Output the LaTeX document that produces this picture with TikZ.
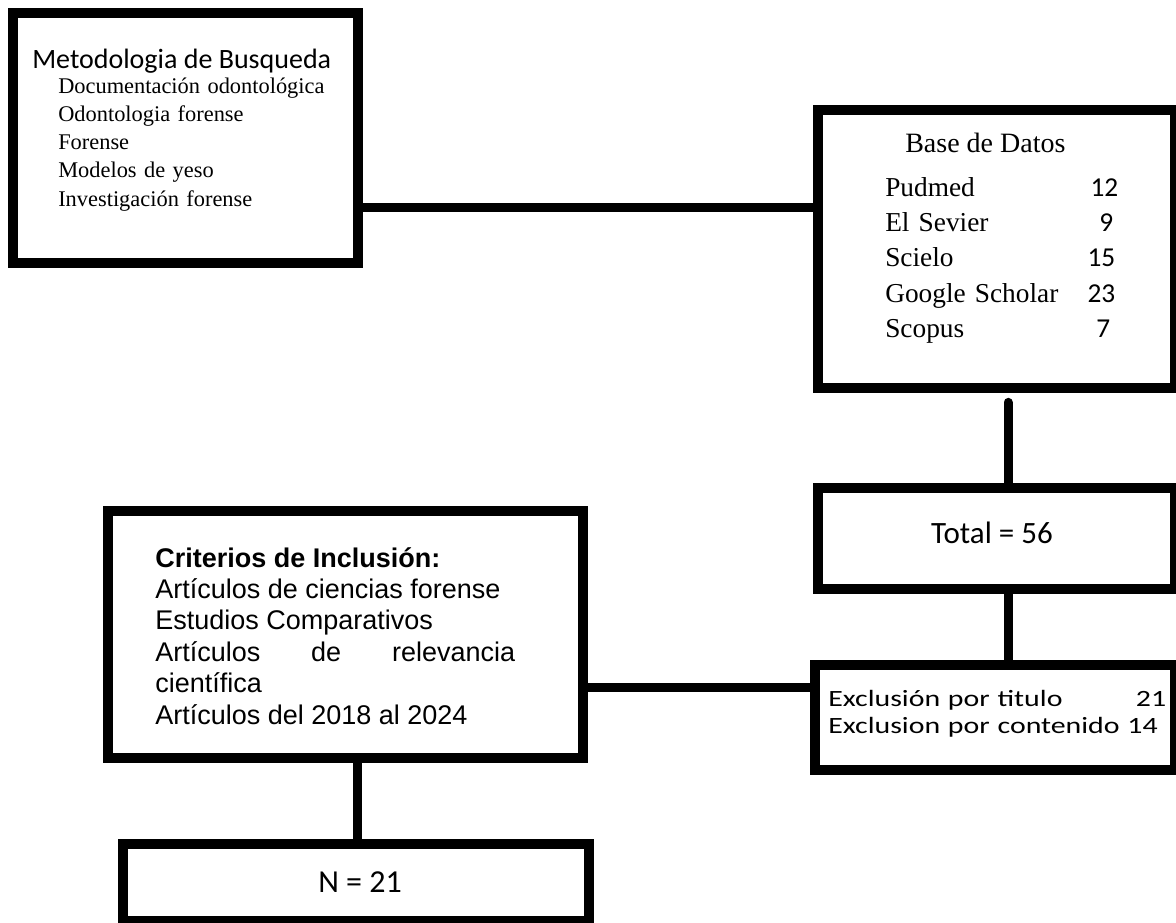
\documentclass[tikz,border=0pt]{standalone}
\usepackage{fontspec}
\setmainfont{Liberation Serif}
\newfontfamily\calibrifont{Carlito}
\newfontfamily\calibriancha[FakeStretch=1.28]{Carlito}
\newfontfamily\arialfont{Liberation Sans}

\begin{document}
\begin{tikzpicture}[x=0.75pt, y=-0.75pt,
    bloque/.style={draw, line width=7.5pt, inner sep=0pt},
    enlace/.style={line width=6.75pt},
    texto/.style={inner sep=0pt, anchor=base west, align=left}]
                    \useasboundingbox (0,0) rectangle (1176,922);
                    \clip (0,0) rectangle (1176,922);
                    \fill[white] (0,0) rectangle (1176,922);

                    % cajas
                    \node[bloque, minimum width=258.75pt, minimum height=187.5pt] (meto) at (185,137.5) {};
                    \node[bloque, minimum width=267.75pt, minimum height=208.5pt] (datos) at (996.5,249) {};
                    \node[bloque, minimum width=267.75pt, minimum height=75.75pt] (total) at (996.5,538.5) {};
                    \node[bloque, minimum width=270pt, minimum height=78.4pt] (excl) at (995,717.25) {};
                    \node[bloque, minimum width=355.9pt, minimum height=185.6pt] (crit) at (345.25,634.25) {};
                    \node[bloque, minimum width=349.5pt, minimum height=57.75pt] (nfinal) at (356,882.5) {};

                    % textos
                    \node[texto, font=\calibrifont\fontsize{21}{25}\selectfont] (metotit) at (32,68) {Metodologia de Busqueda};
                    \node[texto, text width=225pt, font=\fontsize{16.8}{21.2}\selectfont] (metolista) at (58,93) {
                        Documentación odontológica\\
                        Odontologia forense\\
                        Forense\\
                        Modelos de yeso\\
                        Investigación forense
                    };
                    \node[texto, font=\fontsize{21}{25}\selectfont] (datostit) at (905,152) {Base de Datos};
                    \node[texto, text width=174.75pt, font=\fontsize{20.5}{26.6}\selectfont] (datoslista) at (885,196) {
                        Pudmed\hfill{\calibrifont 12}\\
                        El Sevier\hfill{\calibrifont 9}\kern3.75pt\\
                        Scielo\hfill{\calibrifont 15}\kern2.25pt\\
                        Google Scholar\hfill{\calibrifont 23}\kern2.25pt\\
                        Scopus\hfill{\calibrifont 7}\kern6pt
                    };
                    \node[inner sep=0pt, anchor=base, font=\calibrifont\fontsize{23.25}{28}\selectfont] (totaltxt) at (992,543) {Total = 56};
                    \node[texto, text width=253.5pt, font=\calibriancha\fontsize{17.5}{20.25}\selectfont] (excllista) at (828,706) {
                        Exclusión por titulo\hfill 21\\
                        Exclusion por contenido 14
                    };
                    \node[texto, text width=270pt, align=justify, font=\arialfont\fontsize{20.25}{23.6}\selectfont] (critlista) at (155,567) {
                        \textbf{Criterios de Inclusión:}\\
                        Artículos de ciencias forense\\
                        Estudios Comparativos\\
                        Artículos de relevancia \mbox{científica}\\
                        Artículos del 2018 al 2024
                    };
                    \node[inner sep=0pt, anchor=base, font=\calibrifont\fontsize{24}{29}\selectfont] (ntxt) at (360,892) {N = 21};

                    % enlaces
                    \coordinate (ymeto) at (0,207);
                    \coordinate (xdatos) at (1008,0);
                    \coordinate (ycrit) at (0,687);
                    \coordinate (xcrit) at (357,0);
                    \draw[enlace] (meto.east |- ymeto) -- (datos.west |- ymeto);
                    \draw[enlace, line cap=round, shorten <=7pt] (datos.south -| xdatos) -- (total.north -| xdatos);
                    \draw[enlace] (total.south -| xdatos) -- (excl.north -| xdatos);
                    \draw[enlace] (crit.east |- ycrit) -- (excl.west |- ycrit);
                    \draw[enlace] (crit.south -| xcrit) -- (nfinal.north -| xcrit);
                \end{tikzpicture}
\end{document}
